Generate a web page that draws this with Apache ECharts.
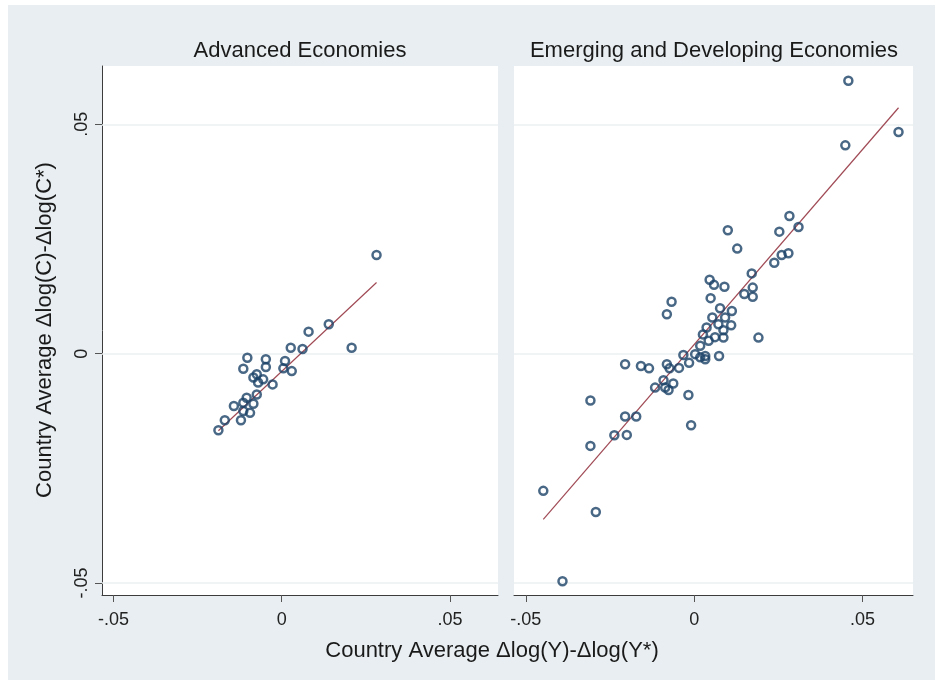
<!DOCTYPE html>
<html><head><meta charset="utf-8">
<script src="https://cdn.jsdelivr.net/npm/echarts@6/dist/echarts.min.js"></script>
<style>html,body{margin:0;padding:0;background:#fff}#c{width:935px;height:683px}</style>
</head><body><div id="c"></div>
<script>
const panelTitles = ['Advanced Economies', 'Emerging and Developing Economies'];
const xTitle = 'Country Average \u0394log(Y)-\u0394log(Y*)';
const yTitle = 'Country Average \u0394log(C)-\u0394log(C*)';
const tickValues = [-0.05, 0, 0.05];
const tickLabels = ['-.05', '0', '.05'];

const advancedPoints = [
  [0.0282, 0.0215], [0.0140, 0.0064], [0.0080, 0.0048], [0.0027, 0.0013],
  [0.0062, 0.0010], [0.0208, 0.0013], [-0.0102, -0.0009], [-0.0047, -0.0012],
  [0.0010, -0.0016], [-0.0114, -0.0033], [-0.0047, -0.0029], [0.0005, -0.0032],
  [0.0030, -0.0038], [-0.0074, -0.0045], [-0.0084, -0.0052], [-0.0055, -0.0056],
  [-0.0027, -0.0067], [-0.0070, -0.0063], [-0.0074, -0.0089], [-0.0084, -0.0109],
  [-0.0114, -0.0107], [-0.0142, -0.0114], [-0.0114, -0.0125], [-0.0094, -0.0129],
  [-0.0121, -0.0145], [-0.0169, -0.0145], [-0.0188, -0.0167], [-0.0104, -0.0096]
];
const emergingPoints = [
  [0.0458, 0.0595], [0.0607, 0.0483], [0.0449, 0.0454], [0.0283, 0.0300],
  [0.0310, 0.0276], [0.0253, 0.0266], [0.0100, 0.0269], [0.0128, 0.0229],
  [0.0280, 0.0219], [0.0260, 0.0215], [0.0238, 0.0198], [0.0171, 0.0175],
  [0.0174, 0.0144], [0.0149, 0.0130], [0.0174, 0.0124], [0.0046, 0.0161],
  [0.0059, 0.0150], [0.0090, 0.0146], [0.0049, 0.0121], [-0.0067, 0.0113],
  [-0.0081, 0.0086], [0.0077, 0.0099], [0.0112, 0.0093], [0.0054, 0.0079],
  [0.0092, 0.0079], [0.0072, 0.0064], [0.0110, 0.0062], [0.0037, 0.0057],
  [0.0087, 0.0051], [0.0191, 0.0035], [0.0026, 0.0042], [0.0062, 0.0036],
  [0.0087, 0.0035], [0.0043, 0.0028], [0.0018, 0.0017], [-0.0032, -0.0003],
  [0.0033, -0.0005], [0.0074, -0.0005], [0.0003, -0.0001], [-0.0205, -0.0023],
  [-0.0158, -0.0027], [-0.0134, -0.0032], [-0.0081, -0.0023], [-0.0073, -0.0032],
  [-0.0045, -0.0031], [-0.0015, -0.0020], [0.0018, -0.0008], [0.0033, -0.0012],
  [-0.0091, -0.0058], [-0.0116, -0.0074], [-0.0086, -0.0074], [-0.0062, -0.0065],
  [-0.0076, -0.0079], [-0.0017, -0.0090], [-0.0009, -0.0156], [-0.0308, -0.0102],
  [-0.0205, -0.0137], [-0.0172, -0.0137], [-0.0237, -0.0178], [-0.0200, -0.0177],
  [-0.0308, -0.0201], [-0.0448, -0.0299], [-0.0292, -0.0345], [-0.0391, -0.0496]
];
const advancedFit = [[-0.0188, -0.0168], [0.0282, 0.0155]];
const emergingFit = [[-0.0448, -0.0361], [0.0607, 0.0536]];

const FONT = '"Liberation Sans", Arial, sans-serif';
const navy = '#1b4268';
const maroon = '#a04a55';
const gridCol = '#ebf0f2';

function fmt(v) {
  for (let i = 0; i < tickValues.length; i++) {
    if (Math.abs(v - tickValues[i]) < 1e-9) return tickLabels[i];
  }
  return '';
}

function xAxisCfg(gi, min, max) {
  return {
    type: 'value', gridIndex: gi, min: min, max: max,
    axisLine: { show: true, onZero: false, lineStyle: { color: '#3c3c3c', width: 1 } },
    axisTick: { show: true, customValues: tickValues, length: 7, lineStyle: { color: '#555' } },
    axisLabel: { customValues: tickValues, formatter: fmt, margin: 16, fontSize: 18, color: '#222', fontFamily: FONT },
    splitLine: { show: false }
  };
}
function yAxisCfg(gi, showAxis) {
  return {
    type: 'value', gridIndex: gi, min: -0.0526, max: 0.0627,
    axisLine: { show: showAxis, onZero: false, lineStyle: { color: '#3c3c3c', width: 1 } },
    axisTick: { show: showAxis, customValues: tickValues, length: 7, lineStyle: { color: '#555' } },
    axisLabel: { show: showAxis, customValues: tickValues, formatter: fmt, rotate: 90, margin: 11, fontSize: 18, color: '#222', fontFamily: FONT },
    splitLine: { show: false }
  };
}
function scatter(gi, pts) {
  return {
    type: 'scatter', xAxisIndex: gi, yAxisIndex: gi, data: pts,
    symbol: 'circle', symbolSize: 8, z: 3,
    itemStyle: { color: 'rgba(255,255,255,0)', borderColor: navy, borderWidth: 2.5 },
    markLine: {
      silent: true, symbol: 'none', label: { show: false }, z: 1,
      lineStyle: { color: gridCol, type: 'solid', width: 1.5 },
      emphasis: { disabled: true },
      data: tickValues.map(v => ({ yAxis: v }))
    }
  };
}
function fit(gi, pts) {
  return {
    type: 'line', xAxisIndex: gi, yAxisIndex: gi, data: pts, z: 2,
    symbol: 'none', lineStyle: { color: maroon, width: 1.2 }
  };
}

const chart = echarts.init(document.getElementById('c'));
chart.setOption({
  backgroundColor: '#ffffff',
  animation: false,
  graphic: [
    { type: 'rect', z: -100, shape: { x: 8, y: 5, width: 927, height: 675 }, style: { fill: '#e8eef1' } },
    { type: 'text', x: 300, y: 51, style: { text: panelTitles[0], fontSize: 22, fontFamily: FONT, fill: '#1a1a1a', textAlign: 'center', textVerticalAlign: 'middle' } },
    { type: 'text', x: 714, y: 51, style: { text: panelTitles[1], fontSize: 22, fontFamily: FONT, fill: '#1a1a1a', textAlign: 'center', textVerticalAlign: 'middle' } },
    { type: 'text', x: 492, y: 651, style: { text: xTitle, fontSize: 22, fontFamily: FONT, fill: '#1a1a1a', textAlign: 'center', textVerticalAlign: 'middle' } },
    { type: 'text', x: 45, y: 330, rotation: Math.PI / 2, style: { text: yTitle, fontSize: 22, fontFamily: FONT, fill: '#1a1a1a', textAlign: 'center', textVerticalAlign: 'middle' } }
  ],
  grid: [
    { left: 102, top: 66, width: 396, height: 529, show: true, backgroundColor: '#ffffff', borderWidth: 0, containLabel: false },
    { left: 514, top: 66, width: 399, height: 529, show: true, backgroundColor: '#ffffff', borderWidth: 0, containLabel: false }
  ],
  xAxis: [xAxisCfg(0, -0.0534, 0.0643), xAxisCfg(1, -0.0535, 0.0650)],
  yAxis: [yAxisCfg(0, true), yAxisCfg(1, false)],
  series: [scatter(0, advancedPoints), fit(0, advancedFit), scatter(1, emergingPoints), fit(1, emergingFit)]
});
</script></body></html>
